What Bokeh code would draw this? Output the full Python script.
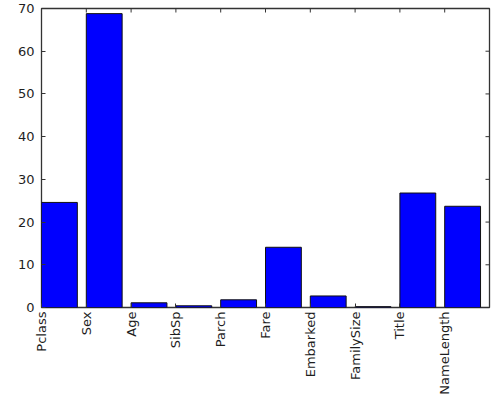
import math
from bokeh.plotting import figure
from bokeh.models import LinearAxis, FixedTicker, Range1d, ColumnDataSource
from bokeh.embed import file_html
from bokeh.resources import INLINE

features = ["Pclass", "Sex", "Age", "SibSp", "Parch", "Fare", "Embarked",
            "FamilySize", "Title", "NameLength"]
scores = [24.6, 68.8, 1.1, 0.4, 1.8, 14.1, 2.7, 0.2, 26.8, 23.7]
y_ticks = [0, 10, 20, 30, 40, 50, 60, 70]

positions = list(range(len(features)))
src = ColumnDataSource(dict(left=positions,
                            right=[p + 0.8 for p in positions],
                            top=scores,
                            bottom=[0] * len(scores)))

p = figure(width=499, height=397, output_backend="svg", toolbar_location=None,
           x_range=Range1d(0, 10), y_range=Range1d(0, 70),
           min_border_top=8, min_border_right=10, min_border_left=41, min_border_bottom=90,
           x_axis_location=None, y_axis_location=None)
p.grid.visible = False
p.outline_line_color = "#333333"
p.outline_line_width = 1.3
p.background_fill_color = "white"
p.border_fill_color = "white"

p.quad(left="left", right="right", top="top", bottom="bottom", source=src,
       fill_color="#0000ff", line_color="#111111", line_width=1)

# inward ticks on top and right edges (clipped to frame so only the inner half shows)
p.scatter(x=positions, y=[70] * len(positions), marker="dash", angle=math.pi / 2,
          size=8, line_color="#333333", line_width=1)
p.scatter(x=[10] * len(y_ticks), y=y_ticks, marker="dash", angle=0,
          size=8, line_color="#333333", line_width=1)

font = "DejaVu Sans"
labelcol = "#1e1e1e"

xb = LinearAxis(ticker=FixedTicker(ticks=positions),
                major_label_overrides={i: f for i, f in enumerate(features)},
                major_label_orientation=math.pi / 2,
                major_label_text_font=font, major_label_text_font_size="13px",
                major_label_text_color=labelcol, major_label_standoff=4,
                major_tick_in=4, major_tick_out=0, minor_tick_line_color=None,
                axis_line_color=None, major_tick_line_color="#333333")
p.add_layout(xb, "below")

yl = LinearAxis(ticker=FixedTicker(ticks=y_ticks),
                major_label_text_font=font, major_label_text_font_size="13px",
                major_label_text_color=labelcol, major_label_standoff=7,
                major_tick_in=4, major_tick_out=0, minor_tick_line_color=None,
                axis_line_color=None, major_tick_line_color="#333333")
p.add_layout(yl, "left")

open("out.html", "w").write(file_html(p, INLINE))
